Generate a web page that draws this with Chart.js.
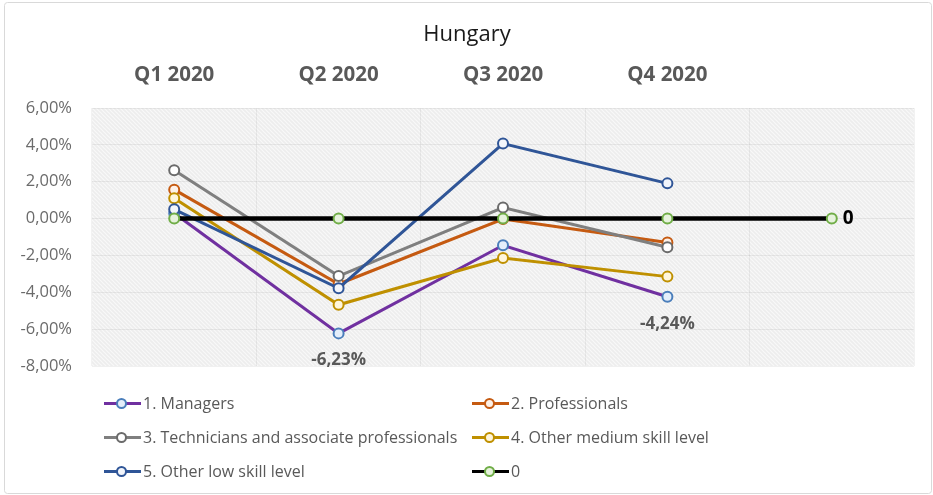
<!DOCTYPE html>
<html>
<head>
<meta charset="utf-8">
<script src="https://cdn.jsdelivr.net/npm/chart.js@4"></script>
<style>
  html, body { margin: 0; padding: 0; background: #fff; }
  #wrap { position: relative; width: 933px; height: 495px; }
  #chart { position: absolute; left: 0; top: 0; }
  .legend-item { position: absolute; height: 20px; display: flex; align-items: center;
    font-family: "Open Sans", sans-serif; font-size: 16px; color: #595959; white-space: nowrap; }
  .swatch { position: relative; width: 37px; height: 20px; margin-right: 2px; }
  .swatch .ln { position: absolute; left: 0; right: 0; top: 8.5px; height: 3px; }
  .swatch .dot { position: absolute; left: 12px; top: 4.5px; width: 7px; height: 7px;
    border-radius: 50%; border: 2px solid; }
</style>
</head>
<body>
<div id="wrap">
  <canvas id="chart" width="933" height="495"></canvas>
  <div id="legend"></div>
</div>
<script>
// Quarterly change by occupation group, Hungary 2020 (percent)
const categories = ['Q1 2020', 'Q2 2020', 'Q3 2020', 'Q4 2020', ''];
const seriesNames = [
  '1. Managers',
  '2. Professionals',
  '3. Technicians and associate professionals',
  '4. Other medium skill level',
  '5. Other low skill level',
  '0'
];
const managers      = [0.29, -6.23, -1.45, -4.24];
const professionals = [1.57, -3.55, -0.03, -1.30];
const technicians   = [2.62, -3.12,  0.60, -1.56];
const otherMedium   = [1.10, -4.68, -2.14, -3.15];
const otherLow      = [0.50, -3.78,  4.07,  1.91];
const zeroLine      = [0, 0, 0, 0, 0];
const yTicks        = [6, 4, 2, 0, -2, -4, -6, -8];

// Value labels: [series index, point index]
const valueLabels = [[0, 1], [0, 3]];
const seriesLabels = [[5, 4]];

const lineColors   = ['#7030a0', '#c55a11', '#7f7f7f', '#bf9000', '#2f5597', '#000000'];
const markerEdges  = ['#4a7ebb', '#c55a11', '#6b6b6b', '#bf9000', '#2f5597', '#70ad47'];
const markerFills  = ['#e4eefa', '#fdf1e8', '#ffffff', '#fff6dc', '#f2f5fb', '#e6f2dc'];
const lineWidths   = [3, 3, 3, 3, 3, 4.5];
const seriesData   = [managers, professionals, technicians, otherMedium, otherLow, zeroLine];

const FONT = '"Open Sans", sans-serif';
const fmtPct = v => v.toFixed(2).replace('.', ',') + '%';

// Hatched fill for the plot area
function hatchPattern(ctx) {
  const c = document.createElement('canvas');
  c.width = 4; c.height = 4;
  const g = c.getContext('2d');
  g.fillStyle = '#ededed';
  g.fillRect(0, 0, 4, 4);
  g.strokeStyle = '#f8f8f8';
  g.lineWidth = 1.2;
  g.beginPath();
  g.moveTo(-1, -1); g.lineTo(5, 5);
  g.moveTo(-1, 3); g.lineTo(1, 5);
  g.moveTo(3, -1); g.lineTo(5, 1);
  g.stroke();
  return ctx.createPattern(c, 'repeat');
}

const plotBackground = {
  id: 'plotBackground',
  beforeDraw(chart) {
    const { ctx, chartArea: a } = chart;
    ctx.save();
    // outer frame
    ctx.strokeStyle = '#d9d9d9';
    ctx.lineWidth = 1;
    ctx.beginPath();
    ctx.roundRect(4.5, 2.5, 927, 491, 3);
    ctx.stroke();
    ctx.fillStyle = hatchPattern(ctx);
    ctx.fillRect(a.left, a.top, a.right - a.left, a.bottom - a.top);
    ctx.restore();
  }
};

const pointLabels = {
  id: 'pointLabels',
  afterDatasetsDraw(chart) {
    const { ctx } = chart;
    ctx.save();
    ctx.textAlign = 'center';
    ctx.textBaseline = 'middle';
    ctx.font = 'bold 17px ' + FONT;
    ctx.fillStyle = '#595959';
    valueLabels.forEach(([s, i]) => {
      const p = chart.getDatasetMeta(s).data[i];
      ctx.fillText(fmtPct(seriesData[s][i]), p.x, p.y + 27);
    });
    ctx.textAlign = 'left';
    ctx.font = 'bold 19px ' + FONT;
    ctx.fillStyle = '#000000';
    seriesLabels.forEach(([s, i]) => {
      const p = chart.getDatasetMeta(s).data[i];
      ctx.fillText(seriesNames[s], p.x + 11, p.y);
    });
    ctx.restore();
  }
};

const datasets = seriesData.map((d, k) => ({
  label: seriesNames[k],
  data: d,
  borderColor: lineColors[k],
  borderWidth: lineWidths[k],
  pointRadius: 5,
  pointBorderWidth: 2,
  pointBorderColor: markerEdges[k],
  pointBackgroundColor: markerFills[k],
  tension: 0,
  fill: false,
  order: seriesData.length - 1 - k
}));

new Chart(document.getElementById('chart'), {
  type: 'line',
  data: { labels: categories, datasets },
  options: {
    responsive: false,
    animation: false,
    layout: { padding: { left: 20, right: 19, top: 0, bottom: 129 } },
    plugins: {
      legend: { display: false },
      tooltip: { enabled: false },
      title: {
        display: true,
        text: 'Hungary',
        color: '#1a1a1a',
        font: { family: FONT, size: 22, weight: 'normal' },
        padding: { top: 22, bottom: 0 }
      }
    },
    scales: {
      x: {
        position: 'top',
        offset: true,
        grid: { offset: true, color: 'rgba(0,0,0,0.05)', drawTicks: false },
        border: { display: false },
        ticks: {
          color: '#595959',
          padding: 21,
          font: { family: FONT, size: 20.5, weight: 'bold' }
        },
        afterFit(scale) { scale.height = 59.6; }
      },
      y: {
        min: -8, max: 6,
        afterBuildTicks(scale) { scale.ticks = yTicks.map(v => ({ value: v })); },
        grid: { color: 'rgba(0,0,0,0.06)', drawTicks: false },
        border: { display: false },
        ticks: {
          color: '#6b6b6b',
          padding: 20,
          font: { family: FONT, size: 16.5 },
          callback: v => fmtPct(v)
        },
        afterFit(scale) { scale.width = 72; }
      }
    }
  },
  plugins: [plotBackground, pointLabels]
});

// Two-column legend below the plot
const legendPos = [[104, 403], [472, 403], [104, 437], [472, 437], [104, 471], [472, 471]];
const legend = document.getElementById('legend');
seriesNames.forEach((name, k) => {
  const item = document.createElement('div');
  item.className = 'legend-item';
  item.style.left = legendPos[k][0] + 'px';
  item.style.top = (legendPos[k][1] - 10) + 'px';
  const sw = document.createElement('span');
  sw.className = 'swatch';
  const ln = document.createElement('span');
  ln.className = 'ln';
  ln.style.background = lineColors[k];
  const dot = document.createElement('span');
  dot.className = 'dot';
  dot.style.borderColor = markerEdges[k];
  dot.style.background = markerFills[k];
  sw.appendChild(ln); sw.appendChild(dot);
  const tx = document.createElement('span');
  tx.textContent = name;
  item.appendChild(sw); item.appendChild(tx);
  legend.appendChild(item);
});
</script>
</body>
</html>
